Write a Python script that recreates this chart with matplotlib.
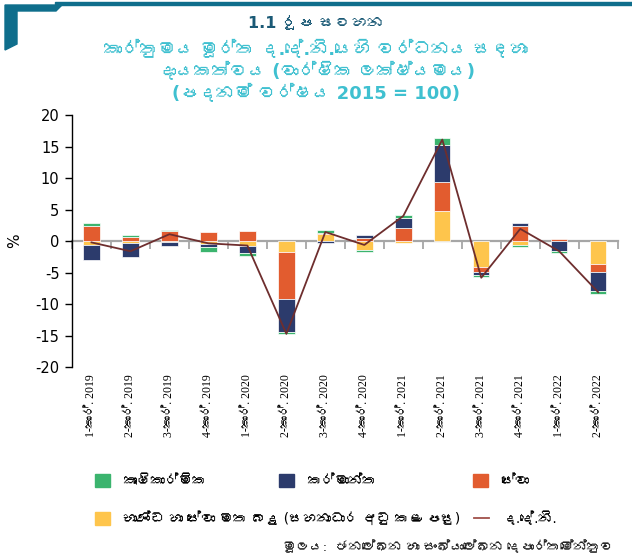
import matplotlib
matplotlib.use("Agg")
import matplotlib.pyplot as plt
from matplotlib import font_manager
from matplotlib.patches import Patch, Polygon, Rectangle
from matplotlib.lines import Line2D
import numpy as np

# ---------------- data ----------------
quarters = ["1-කාර්. 2019", "2-කාර්. 2019", "3-කාර්. 2019", "4-කාර්. 2019",
            "1-කාර්. 2020", "2-කාර්. 2020", "3-කාර්. 2020", "4-කාර්. 2020",
            "1-කාර්. 2021", "2-කාර්. 2021", "3-කාර්. 2021", "4-කාර්. 2021",
            "1-කාර්. 2022", "2-කාර්. 2022"]
taxes       = [-0.60, -0.30, -0.20, -0.50, -0.70, -1.76, 1.20, -1.45, -0.30, 4.79, -4.14, -0.63, 0.00, -3.66]
services    = [2.45, 0.72, 1.55, 1.40, 1.62, -7.40, 0.15, 0.45, 2.09, 4.59, -0.79, 2.46, 0.30, -1.27]
industry    = [-2.40, -2.25, -0.50, -0.50, -1.22, -5.18, -0.25, 0.50, 1.59, 5.87, -0.47, 0.37, -1.55, -2.97]
agriculture = [0.40, 0.25, 0.25, -0.75, -0.43, -0.40, 0.35, -0.22, 0.47, 1.05, -0.32, -0.24, -0.37, -0.53]
gdp         = [-0.20, -1.60, 1.10, -0.35, -0.70, -14.70, 1.45, -0.60, 4.00, 16.10, -5.80, 1.95, -1.60, -8.10]

series_labels = ["කෘෂිකාර්මික", "කර්මාන්ත", "සේවා",
                 "භාණ්ඩ හා සේවා මත බදු (සහනාධාර අඩු කළ පසු)"]
gdp_label = "ද.දේ.නි."
yticks = [20, 15, 10, 5, 0, -5, -10, -15, -20]

title = "1.1 රූප සටහන"
subtitle = ["කාර්තුමය මූර්ත ද.දේ.නි.යෙහි වර්ධනය සඳහා",
            "දායකත්වය (වාර්ෂික ලක්ෂ්\u200dයමය)",
            "(පදනම් වර්ෂය 2015 = 100)"]
source = "මූලය:  ජනලේඛන හා සංඛ්\u200dයාලේඛන දෙපාර්තමේන්තුව"

# ---------------- fonts ----------------
sinhala_fonts = []
for f in font_manager.fontManager.ttflist:
    try:
        cm = matplotlib.ft2font.FT2Font(f.fname).get_charmap()
        if 0x0D9A in cm and f.name not in sinhala_fonts:
            sinhala_fonts.append(f.name)
    except Exception:
        pass

sans = ["DejaVu Sans"] + sinhala_fonts
serif = ["Liberation Serif"] + sinhala_fonts + ["DejaVu Sans"]
plt.rcParams["font.family"] = sans
plt.rcParams["axes.unicode_minus"] = False

c_green = "#3bb46e"
c_navy = "#2c3b6c"
c_orange = "#e25c2f"
c_yellow = "#fec54c"
c_line = "#6e2e2e"
c_teal_dark = "#0f6e8c"

fig = plt.figure(figsize=(6.32, 5.59), dpi=100)
ax = fig.add_axes([72/632, 1-367.3/559, (617.7-72)/632, (367.3-115)/559])

x = np.arange(len(quarters))
w = 0.42
pos_base = np.zeros(len(x))
neg_base = np.zeros(len(x))
for vals, col in [(taxes, c_yellow), (services, c_orange), (industry, c_navy), (agriculture, c_green)]:
    v = np.array(vals)
    base = np.where(v >= 0, pos_base, neg_base)
    ax.bar(x, v, w, bottom=base, color=col, edgecolor="white", linewidth=0.5, zorder=2)
    pos_base = pos_base + np.where(v >= 0, v, 0)
    neg_base = neg_base + np.where(v < 0, v, 0)

ax.plot(x, gdp, color=c_line, lw=1.3, zorder=3)

ax.set_xlim(-0.5, len(x) - 0.5)
ax.set_ylim(-20, 20)
ax.set_yticks(yticks)
ax.tick_params(axis="y", direction="out", length=5, width=1, labelsize=10.5, pad=4)
ax.set_ylabel("%", fontsize=11)
ax.yaxis.set_label_coords(-50/545.7, 0.5)

for s in ["top", "right"]:
    ax.spines[s].set_visible(False)
ax.spines["left"].set_linewidth(1)
ax.spines["bottom"].set_position(("data", 0))
ax.spines["bottom"].set_color("#a6a6a6")
ax.spines["bottom"].set_linewidth(1.6)
ax.spines["bottom"].set_zorder(1)
ax.set_xticks(x)
ax.set_xticks(np.arange(len(x) + 1) - 0.5, minor=True)
ax.tick_params(axis="x", which="major", length=0, labelbottom=False)
ax.tick_params(axis="x", which="minor", length=5.5, width=1.3, color="#a6a6a6", direction="out")

sec = ax.secondary_xaxis(0)
sec.set_xticks(x)
sec.set_xticklabels(quarters, rotation=90, fontsize=8.5, family=serif)
sec.tick_params(length=0, pad=5)
sec.spines["bottom"].set_visible(False)

# ---------------- titles ----------------
fig.text(0.5, 1-23/559, title, ha="center", va="center", fontsize=11.5,
         fontweight="bold", color="#1b5a76")
for i, line in enumerate(subtitle):
    fig.text(0.5, 1-(50 + 22*i)/559, line, ha="center", va="center", fontsize=13,
             fontweight="bold", color="#3fc0d0")

# decorative corner
fig.patches.append(Rectangle((55/632, 1-4.5/559), 1-55/632, 2.5/559, transform=fig.transFigure,
                             color=c_teal_dark, zorder=0))
fig.patches.append(Polygon([(5/632, 1-5/559), (62/632, 1-5/559), (56/632, 1-11/559),
                            (17/632, 1-11/559), (17/632, 1-44/559), (5/632, 1-50/559)],
                           closed=True, transform=fig.transFigure, color=c_teal_dark, zorder=0))

# ---------------- legend ----------------
handles = [Patch(color=c_green), Patch(color=c_navy), Patch(color=c_orange), Patch(color=c_yellow),
           Line2D([0], [0], color="#a0504a", lw=1.3)]
labels = series_labels + [gdp_label]
spots = [(95, 481), (279, 481), (473, 481), (95, 519), (474, 519)]
for h, l, (px, py) in zip(handles, labels, spots):
    fig.legend([h], [l], loc="center left", bbox_to_anchor=(px/632, 1-py/559), frameon=False,
               fontsize=10, handlelength=1.05, handleheight=1.05, handletextpad=1.0,
               borderaxespad=0, borderpad=0)

fig.text(613/632, 1-547/559, source, ha="right", va="center", fontsize=9.5, color="#222222")

fig.savefig("out.png", dpi=100)
